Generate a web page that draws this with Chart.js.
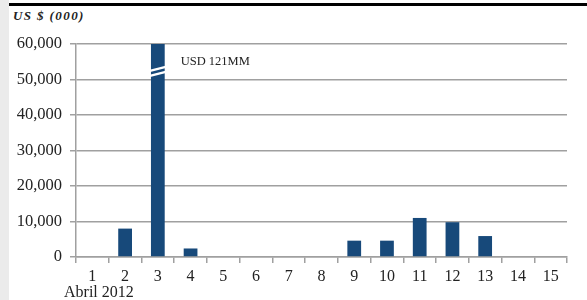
<!DOCTYPE html>
<html><head><meta charset="utf-8">
<script src="https://cdn.jsdelivr.net/npm/chart.js@4/dist/chart.umd.min.js"></script>
<style>
html,body{margin:0;padding:0;background:#fff;}
#wrap{position:relative;width:587px;height:300px;}
#strip{position:absolute;left:0;top:0;width:9px;height:300px;background:#ebebeb;}
#topline{position:absolute;left:9px;top:3px;width:578px;height:3px;background:#000;}
#title{position:absolute;left:13px;top:8px;font:bold italic 13px "Liberation Serif",serif;letter-spacing:1.4px;color:#222;}
canvas{position:absolute;left:0;top:0;}
</style></head><body>
<div id="wrap">
<div id="strip"></div><div id="topline"></div>
<div id="title">US $ (000)</div>
<canvas id="c" width="587" height="300"></canvas>
</div>
<script>
const categories = ["1","2","3","4","5","6","7","8","9","10","11","12","13","14","15"];
const values = [0, 8000, 121000, 2400, 0, 0, 0, 0, 4600, 4600, 11000, 9800, 5900, 0, 0];
const yTicks = [0, 10000, 20000, 30000, 40000, 50000, 60000];
const breakIndex = 2;
const breakLabel = "USD 121MM";
const xSubLabel = "Abril 2012";

const extras = {
  id: 'extras',
  afterDatasetsDraw(chart) {
    const ctx = chart.ctx;
    const meta = chart.getDatasetMeta(0);
    const bar = meta.data[breakIndex];
    const y = chart.scales.y;
    const x = chart.scales.x;
    const half = bar.width / 2;
    const yb = y.getPixelForValue(53000);
    ctx.save();
    ctx.strokeStyle = '#fff';
    ctx.lineWidth = 2.2;
    [0, 5].forEach(off => {
      ctx.beginPath();
      ctx.moveTo(bar.x - half - 1, yb + off + 2);
      ctx.lineTo(bar.x + half + 1, yb + off - 2);
      ctx.stroke();
    });
    ctx.fillStyle = '#222';
    ctx.font = '12.5px "Liberation Serif", serif';
    ctx.textBaseline = 'middle';
    ctx.fillText(breakLabel, bar.x + half + 16, y.getPixelForValue(55000));
    ctx.font = '16px "Liberation Serif", serif';
    ctx.textBaseline = 'alphabetic';
    ctx.fillText(xSubLabel, x.left - 12, chart.chartArea.bottom + 40);
    ctx.restore();
  }
};

new Chart(document.getElementById('c'), {
  type: 'bar',
  data: { labels: categories, datasets: [{ data: values, backgroundColor: '#17497a', barPercentage: 0.42, categoryPercentage: 1 }] },
  options: {
    responsive: false, animation: false,
    layout: { padding: { top: 44, right: 20, left: 0, bottom: 0 } },
    plugins: { legend: { display: false }, tooltip: { enabled: false } },
    scales: {
      x: {
        grid: { display: true, drawOnChartArea: false, drawTicks: true, tickLength: 6, color: '#a0a0a0', lineWidth: 1.5, offset: true },
        border: { color: '#a0a0a0', width: 1.5 },
        ticks: { color: '#222', font: { family: '"Liberation Serif", serif', size: 16 }, padding: 4, maxRotation: 0, autoSkip: false },
        afterFit(s) { s.height = 43; }
      },
      y: {
        min: 0, max: 60000,
        afterBuildTicks(s) { s.ticks = yTicks.map(v => ({ value: v })); },
        grid: { color: '#a0a0a0', lineWidth: 1.5, drawTicks: true, tickLength: 6 },
        border: { color: '#a0a0a0', width: 1.5 },
        ticks: { color: '#222', font: { family: '"Liberation Serif", serif', size: 16.5 }, padding: 8,
          callback: v => v.toLocaleString('en-US') },
        afterFit(s) { s.width = 76; }
      }
    }
  },
  plugins: [extras]
});
</script>
</body></html>
